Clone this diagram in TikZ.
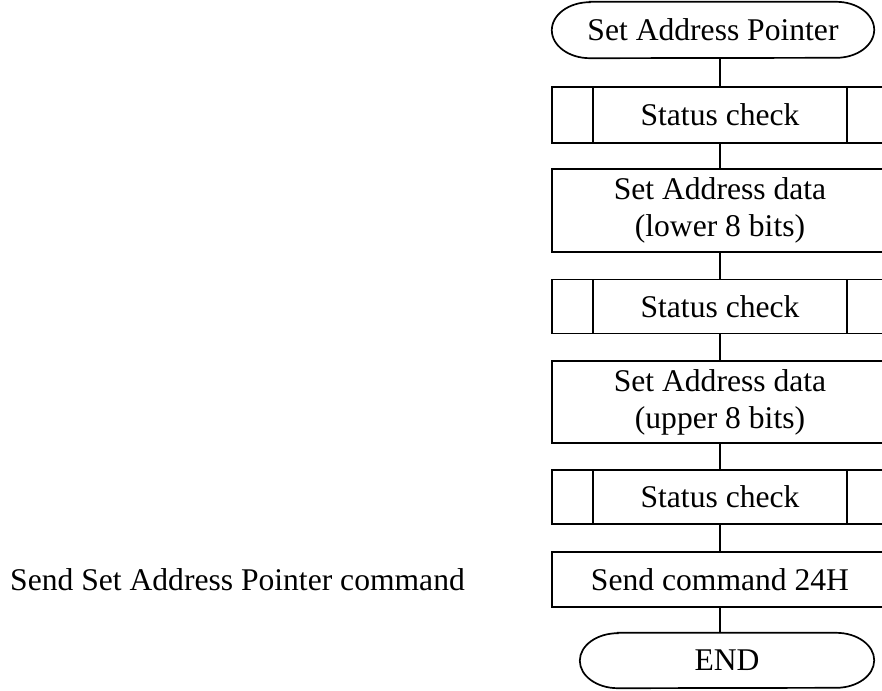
\documentclass[tikz,border=0pt]{standalone}
\usepackage{fontspec}
\setmainfont{Liberation Serif}
\begin{document}
\begin{tikzpicture}[x=1pt,y=-1pt,
  every node/.style={font=\fontsize{31.6}{38}\selectfont, inner sep=0pt},
  box/.style={draw, line width=1.7pt, minimum width=336pt, align=center},
  subbox/.style={box, path picture={
     \draw[line width=1.7pt] ([xshift=41pt]path picture bounding box.north west) -- ([xshift=41pt]path picture bounding box.south west);
     \draw[line width=1.7pt] ([xshift=-41pt]path picture bounding box.north east) -- ([xshift=-41pt]path picture bounding box.south east);}},
  termbox/.style={minimum height=56pt}
]
\useasboundingbox (0,0) rectangle (882,690);
\newcommand\termoutline[3]{%
  \draw[line width=1.7pt] ([xshift=#2]#1.north west) -- ([xshift=-#2]#1.north east)
    arc[start angle=90, end angle=-90, x radius=#2, y radius=#3]
    -- ([xshift=#2]#1.south west)
    arc[start angle=270, end angle=90, x radius=#2, y radius=#3] -- cycle;}

\node[termbox, minimum width=322pt] (start) at (713,30) {Set Address Pointer};
\termoutline{start}{38pt}{28pt}

\node[subbox, minimum height=56pt] (sc1) at (720,115) {Status check};
\node[box, minimum height=83pt] (sa1) at (720,210.5) {Set Address data\\[-1pt](lower 8 bits)};
\node[subbox, minimum height=54pt] (sc2) at (720,306.5) {Status check};
\node[box, minimum height=82pt] (sa2) at (720,402) {Set Address data\\[-1pt](upper 8 bits)};
\node[subbox, minimum height=54pt] (sc3) at (720,497) {Status check};
\node[box, minimum height=55pt] (send) at (720,579.5) {Send command 24H};
\node[termbox, minimum width=294pt, minimum height=55pt] (end) at (727,660.5) {END};
\termoutline{end}{38pt}{27.5pt}

\node[anchor=west] (lbl) at (10,579.5) {Send Set Address Pointer command};

\draw[line width=1.7pt] (sc1.north) -- (sc1.north |- start.south);
\draw[line width=1.7pt] (sc1.south) -- (sa1.north);
\draw[line width=1.7pt] (sa1.south) -- (sc2.north);
\draw[line width=1.7pt] (sc2.south) -- (sa2.north);
\draw[line width=1.7pt] (sa2.south) -- (sc3.north);
\draw[line width=1.7pt] (sc3.south) -- (send.north);
\draw[line width=1.7pt] (send.south) -- (send.south |- end.north);
\end{tikzpicture}
\end{document}
